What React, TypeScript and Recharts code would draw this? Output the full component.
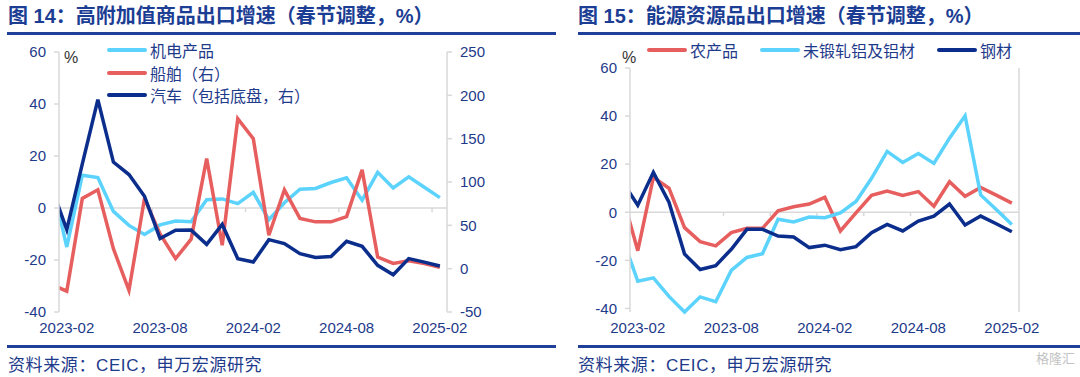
import React from 'react';
import { LineChart, Line, XAxis, YAxis, ReferenceLine } from 'recharts';

// 月份（2023-01 只用于画出左端被裁掉的线段）
const months = [
  '2023-01', '2023-02', '2023-03', '2023-04', '2023-05', '2023-06', '2023-07',
  '2023-08', '2023-09', '2023-10', '2023-11', '2023-12', '2024-01', '2024-02',
  '2024-03', '2024-04', '2024-05', '2024-06', '2024-07', '2024-08', '2024-09',
  '2024-10', '2024-11', '2024-12', '2025-01', '2025-02'
];

// 图 14
const jidian = [11, -15, 12.6, 11.7, -1.3, -6.7, -10.2, -6.5, -5, -5.3, 3.2, 3.5, 1.7, 6, -4.5, 2, 7.2, 7.5, 9.8, 11.6, 3, 13.7, 7.7, 12, 8, 4];
const chuanbo = [-18, -26, 81, 91, 23, -25, 81, 40, 11.6, 34, 127, 27, 173, 150, 38.5, 91, 58, 54, 54, 60, 114, 13.4, 6, 9, 6, 1.5];
const qiche = [95, 45, 121, 195, 123, 108.6, 83.6, 34.7, 44.3, 44.5, 28, 51, 11.6, 7.6, 33.5, 29, 17.3, 13, 14, 31.6, 25.8, 3.8, -7, 11.6, 7.6, 3];

// 图 15
const nongchanpin = [7.2, -16, 14.5, 10, -6.4, -12.2, -14, -8.5, -6.7, -6.7, 0.6, 2.3, 3.4, 6.2, -7.8, -0.3, 7, 8.8, 7, 8.6, 2.5, 12.7, 6.6, 10.3, 7.1, 3.8];
const lvcai = [-10.3, -28.7, -27.3, -35, -41.5, -35.2, -37.2, -24.2, -18.8, -17.3, -2.9, -4, -2, -2.3, -0.3, 4.5, 14.1, 25.3, 20.7, 24.4, 20.3, 30.8, 40.1, 7.2, 1.1, -5.1];
const gangcai = [12.9, 2.9, 16.6, 4.2, -17.4, -23.8, -22.2, -15.4, -7.1, -7.1, -9.9, -10.3, -14.7, -13.7, -15.6, -14.3, -8.5, -5.1, -7.8, -3.7, -1.6, 3.4, -5.3, -1.6, -4.8, -8.1];

const xTicks = [1, 7, 13, 19, 25];
const leftTicks14 = [-40, -20, 0, 20, 40, 60];
const rightTicks14 = [-50, 0, 50, 100, 150, 200, 250];
const leftTicks15 = [-40, -20, 0, 20, 40, 60];
const rightTicks15 = [-80, -40, 0, 40, 80, 120, 160];
const zeroMarks14 = [6.5, 12.5, 18.5, 24.5];
const zeroMarks15 = [6.5, 9.5, 12.5, 15.5, 18.5, 21.5, 24.5];

const SKY = '#5bd3fc';
const RED = '#e75e5e';
const NAVY = '#0b2d8c';
const TEXT = '#1e3a8a';
const GRID = '#d9d9d9';
const FONT = "'Liberation Sans', Arial, 'Noto Sans CJK SC', sans-serif";

const data14 = months.map((m, i) => ({ idx: i, month: m, jidian: jidian[i], chuanbo: chuanbo[i], qiche: qiche[i] }));
const data15 = months.map((m, i) => ({ idx: i, month: m, nong: nongchanpin[i], lv: lvcai[i], gang: gangcai[i] }));

const tickStyle = { fill: TEXT, fontSize: 15, fontFamily: FONT };

const xAxisProps = {
  dataKey: 'idx',
  type: 'number' as const,
  domain: [0.5, 25.46],
  allowDataOverflow: true,
  ticks: xTicks,
  tickFormatter: (i: number) => months[i],
  tick: tickStyle,
  tickLine: false,
  axisLine: false,
  tickSize: 6,
  tickMargin: 4,
  height: 30,
  interval: 0 as const
};

const yAxisStyle = {
  axisLine: { stroke: GRID, strokeWidth: 1.5 },
  tickLine: { stroke: GRID, strokeWidth: 1.5 },
  tickSize: 5,
  tickMargin: 8,
  tick: tickStyle,
  width: 50,
  interval: 0 as const
};

const LegendItem = ({ x, y, color, label }: { x: number; y: number; color: string; label: string }) => (
  <div style={{ position: 'absolute', left: x, top: y - 11, height: 22, display: 'flex', alignItems: 'center', whiteSpace: 'nowrap' }}>
    <span style={{ display: 'inline-block', width: 40, height: 4, background: color, borderRadius: 2, marginRight: 3 }} />
    <span style={{ fontSize: 16, color: TEXT, fontFamily: FONT }}>{label}</span>
  </div>
);

const Chart14 = () => (
  <LineChart
    width={560}
    height={377}
    data={data14}
    margin={{ top: 52, right: 63, bottom: 35, left: 9 }}
    style={{ position: 'absolute', left: 0, top: 0 }}
  >
    <XAxis {...xAxisProps} />
    <YAxis yAxisId="left" domain={[-40, 60]} ticks={leftTicks14} {...yAxisStyle} />
    <YAxis yAxisId="right" orientation="right" domain={[-50, 250]} ticks={rightTicks14} {...yAxisStyle} />
    <ReferenceLine yAxisId="left" y={0} stroke={GRID} strokeWidth={1.5} />
    {zeroMarks14.map(x => (
      <ReferenceLine key={x} yAxisId="left" segment={[{ x, y: 0 }, { x, y: -1.6 }]} stroke={GRID} strokeWidth={1.5} />
    ))}
    <Line yAxisId="left" dataKey="jidian" stroke={SKY} strokeWidth={3.5} dot={false} isAnimationActive={false} />
    <Line yAxisId="right" dataKey="chuanbo" stroke={RED} strokeWidth={3.5} dot={false} isAnimationActive={false} />
    <Line yAxisId="right" dataKey="qiche" stroke={NAVY} strokeWidth={3.5} dot={false} isAnimationActive={false} />
  </LineChart>
);

const Chart15 = () => (
  <LineChart
    width={520}
    height={377}
    data={data15}
    margin={{ top: 68, right: 11, bottom: 35, left: 20 }}
    style={{ position: 'absolute', left: 560, top: 0 }}
  >
    <XAxis {...xAxisProps} />
    <YAxis yAxisId="left" domain={[-40, 60]} ticks={leftTicks15} {...yAxisStyle} />
    <YAxis yAxisId="right" orientation="right" domain={[-80, 160]} ticks={rightTicks15} {...yAxisStyle} />
    <ReferenceLine yAxisId="left" y={0} stroke={GRID} strokeWidth={1.5} />
    {zeroMarks15.map(x => (
      <ReferenceLine key={x} yAxisId="left" segment={[{ x, y: 0 }, { x, y: -1.6 }]} stroke={GRID} strokeWidth={1.5} />
    ))}
    <Line yAxisId="left" dataKey="nong" stroke={RED} strokeWidth={3.5} dot={false} isAnimationActive={false} />
    <Line yAxisId="left" dataKey="lv" stroke={SKY} strokeWidth={3.5} dot={false} isAnimationActive={false} />
    <Line yAxisId="left" dataKey="gang" stroke={NAVY} strokeWidth={3.5} dot={false} isAnimationActive={false} />
  </LineChart>
);

const titleStyle: React.CSSProperties = {
  position: 'absolute', top: 3, fontSize: 20, fontWeight: 'bold', color: '#1b3d93',
  fontFamily: FONT, whiteSpace: 'nowrap', lineHeight: '27px'
};
const sourceStyle: React.CSSProperties = {
  position: 'absolute', top: 355, fontSize: 17, letterSpacing: 0.6, color: TEXT, fontFamily: FONT,
  whiteSpace: 'nowrap', lineHeight: '22px'
};
const rule = (left: number, width: number, top: number): React.CSSProperties => ({
  position: 'absolute', left, top, width, height: 2.5, background: '#1f3f99'
});
const pct: React.CSSProperties = { position: 'absolute', fontSize: 16, color: '#333', fontFamily: FONT };

export default function App() {
  return (
    <div style={{ position: 'absolute', left: 0, top: 0, width: 1080, height: 377, background: '#fff', overflow: 'hidden' }}>
      <div style={{ ...titleStyle, left: 8 }}>图 14：高附加值商品出口增速（春节调整，%）</div>
      <div style={{ ...titleStyle, left: 578 }}>图 15：能源资源品出口增速（春节调整，%）</div>
      <div style={rule(7, 549, 32)} />
      <div style={rule(578, 502, 32)} />

      <Chart14 />
      <Chart15 />

      <div style={{ ...pct, left: 64, top: 49 }}>%</div>
      <div style={{ ...pct, left: 622, top: 49 }}>%</div>

      <LegendItem x={107} y={50} color={SKY} label="机电产品" />
      <LegendItem x={107} y={73} color={RED} label="船舶（右）" />
      <LegendItem x={107} y={95} color={NAVY} label="汽车（包括底盘，右）" />

      <LegendItem x={647} y={50} color={RED} label="农产品" />
      <LegendItem x={760} y={50} color={SKY} label="未锻轧铝及铝材" />
      <LegendItem x={937} y={50} color={NAVY} label="钢材" />

      <div style={rule(7, 549, 345)} />
      <div style={rule(578, 502, 345)} />
      <div style={{ ...sourceStyle, left: 8 }}>资料来源：CEIC，申万宏源研究</div>
      <div style={{ ...sourceStyle, left: 578 }}>资料来源：CEIC，申万宏源研究</div>
      <div style={{ position: 'absolute', left: 1036, top: 350, fontSize: 13, lineHeight: '18px', color: '#c4c4c4', fontFamily: FONT, whiteSpace: 'nowrap' }}>格隆汇</div>
    </div>
  );
}
